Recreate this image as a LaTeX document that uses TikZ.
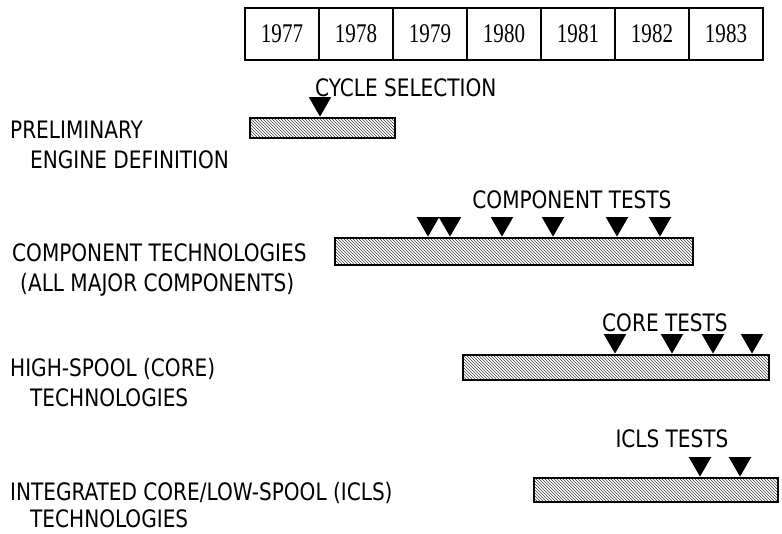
\documentclass[tikz,border=0pt]{standalone}
\usepackage{fontspec}
\setmainfont[FakeStretch=0.93]{DejaVu Sans Condensed}
\newfontfamily\yearfont{Liberation Serif}
\usetikzlibrary{
    patterns,
    shapes.geometric,
    positioning
}
\newcommand{\yeartext}[1]{\scalebox{0.78}[1]{#1}}
\tikzset{
    lbl/.style={anchor=base west, inner sep=0pt, font=\fontsize{24}{24}\selectfont},
    testlbl/.style={anchor=base, inner sep=0pt, font=\fontsize{24}{24}\selectfont},
    yearbox/.style={draw, line width=1.3pt, minimum width=74pt, minimum height=52pt,
        inner sep=0pt, font=\yearfont\fontsize{27}{27}\selectfont},
    bar/.style={draw, line width=2pt, pattern=north west lines, pattern color=black!75,
        inner sep=0pt, anchor=north west},
    milestone/.style={regular polygon, regular polygon sides=3, shape border rotate=180,
        fill=black, minimum size=26pt, inner sep=0pt, anchor=corner 1}
}

\begin{document}
\begin{tikzpicture}[x=1pt, y=-1pt]
    \useasboundingbox (0, 0) rectangle (782, 534);
    % year scale
    \foreach \yr [count=\i from 0] in {1977, 1978, 1979, 1980, 1981, 1982, 1983} {
        \node[yearbox] (y\yr) at (282 + 74*\i, 34) {\yeartext{\yr}};
    }

    % preliminary engine definition
    \node[lbl] (pre1) at (10, 139) {PRELIMINARY};
    \node[lbl] (pre2) at (30, 169) {ENGINE DEFINITION};
    \node[bar, minimum width=145pt, minimum height=20pt] (prebar) at (249, 117) {};
    \node[milestone] (cyc) at (320, 117) {};
    \node[testlbl, anchor=base west] (cyclbl) at (315, 97) {CYCLE SELECTION};

    % component technologies
    \node[lbl] (comp1) at (12, 262) {COMPONENT TECHNOLOGIES};
    \node[lbl] (comp2) at (20, 292) {(ALL MAJOR COMPONENTS)};
    \node[bar, minimum width=358pt, minimum height=27pt] (compbar) at (334, 237) {};
    \foreach \x in {428, 450, 502, 553, 617, 660} {
        \node[milestone] at (\x, 237) {};
    }
    \node[testlbl] (complbl) at (572, 209) {COMPONENT TESTS};

    % high-spool (core)
    \node[lbl] (core1) at (10, 377) {HIGH-SPOOL (CORE)};
    \node[lbl] (core2) at (30, 407) {TECHNOLOGIES};
    \node[bar, minimum width=306pt, minimum height=25pt] (corebar) at (462, 354) {};
    \foreach \x in {615, 672, 713, 752} {
        \node[milestone] at (\x, 354) {};
    }
    \node[testlbl] (corelbl) at (665, 332) {CORE TESTS};

    % integrated core/low-spool
    \node[lbl] (icls1) at (10, 500) {INTEGRATED CORE/LOW-SPOOL (ICLS)};
    \node[lbl] (icls2) at (30, 527) {TECHNOLOGIES};
    \node[bar, minimum width=244pt, minimum height=24pt] (iclsbar) at (533, 477) {};
    \foreach \x in {700, 740} {
        \node[milestone] at (\x, 477) {};
    }
    \node[testlbl] (iclslbl) at (672, 447) {ICLS TESTS};
\end{tikzpicture}
\end{document}
